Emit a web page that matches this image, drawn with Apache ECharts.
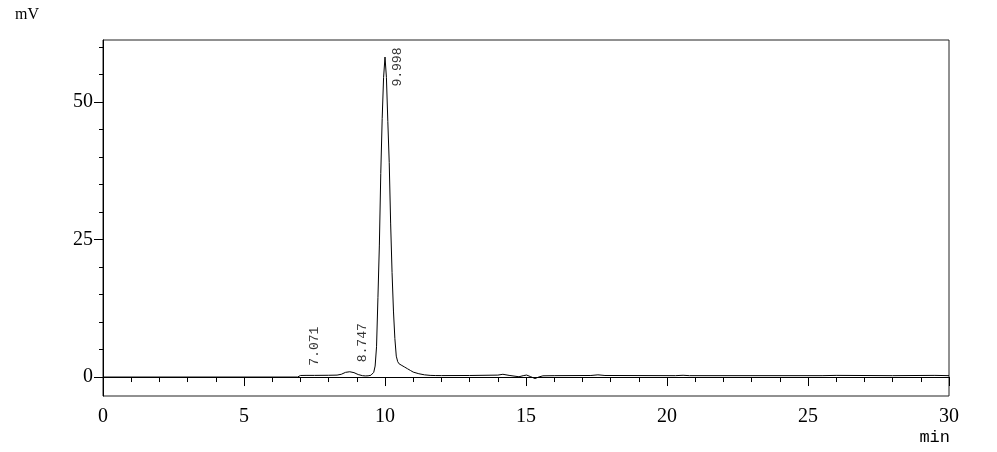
<!DOCTYPE html>
<html><head><meta charset="utf-8">
<script src="https://cdn.jsdelivr.net/npm/echarts@6/dist/echarts.min.js"></script>
<style>html,body{margin:0;padding:0;background:#fff}#c{width:997px;height:452px}</style>
</head><body><div id="c"></div>
<script>
// retention time (min)
const times = [0, 6.9, 6.95, 7.0, 7.07, 7.2, 7.5, 8.0, 8.3, 8.45, 8.6, 8.75, 8.9, 9.05, 9.2, 9.3, 9.4, 9.45, 9.5, 9.55, 9.6, 9.65, 9.7, 9.75, 9.8, 9.85, 9.9, 9.95, 10.0, 10.05, 10.1, 10.15, 10.2, 10.25, 10.3, 10.35, 10.4, 10.45, 10.5, 10.6, 10.7, 10.8, 10.9, 11.0, 11.2, 11.4, 11.6, 11.8, 12.0, 13.0, 14.0, 14.18, 14.4, 14.75, 14.9, 15.02, 15.15, 15.32, 15.45, 15.6, 16.0, 17.3, 17.55, 17.8, 20.3, 20.57, 20.8, 25.5, 26.0, 28.0, 29.5, 30.0];
// detector signal (mV)
const signal = [0, 0, 0.2, 0.28, 0.33, 0.3, 0.3, 0.32, 0.35, 0.5, 0.85, 0.96, 0.8, 0.45, 0.25, 0.2, 0.22, 0.26, 0.32, 0.45, 0.85, 2.0, 5.5, 14.5, 24, 37, 47, 54.5, 58.2, 54.5, 46.5, 39, 28, 19, 12, 7, 3.8, 2.8, 2.4, 2.1, 1.8, 1.5, 1.2, 0.9, 0.6, 0.4, 0.3, 0.27, 0.26, 0.28, 0.35, 0.5, 0.3, 0.05, 0.25, 0.36, 0.1, -0.28, 0.0, 0.22, 0.25, 0.28, 0.4, 0.28, 0.25, 0.32, 0.25, 0.25, 0.3, 0.25, 0.3, 0.25];
// integrated peaks
const peakTimes = [7.071, 8.747, 9.998];
const peakHeights = [0.33, 0.96, 58.2];
const peakLabels = ['7.071', '8.747', '9.998'];
// axis ticks
const yLabelValues = [0, 25, 50];
const yMinorTicks = [5, 10, 15, 20, 30, 35, 40, 45, 55, 60];

const lineData = times.map((t, i) => [t, signal[i]]);
const peakData = peakTimes.map((t, i) => ({
  value: [t, peakHeights[i]],
  label: { position: peakHeights[i] > 40 ? [13, 30] : [13, -9] }
}));

const serif = 'Liberation Serif';
const chart = echarts.init(document.getElementById('c'), null, { renderer: 'canvas' });
chart.setOption({
  animation: false,
  title: [
    { text: 'mV', left: 10, top: 2, textStyle: { fontFamily: serif, fontSize: 16, fontWeight: 'normal', color: '#000' } },
    { text: 'min', right: 42, top: 424, textStyle: { fontFamily: 'Liberation Mono', fontSize: 17, fontWeight: 'normal', color: '#000' } }
  ],
  grid: { left: 103, right: 48, top: 40, bottom: 56, show: true, borderColor: '#222', borderWidth: 1, backgroundColor: 'transparent' },
  xAxis: {
    type: 'value', min: 0, max: 30, interval: 5,
    axisLine: { show: true, lineStyle: { color: '#000', width: 1 } },
    axisTick: { show: true, length: 9, lineStyle: { color: '#000' } },
    minorTick: { show: true, splitNumber: 5, length: 5, lineStyle: { color: '#000' } },
    axisLabel: { margin: 11, fontFamily: serif, fontSize: 20, color: '#000' },
    splitLine: { show: false }, minorSplitLine: { show: false }
  },
  yAxis: [
    {
      type: 'value', min: -3.45, max: 61.3,
      axisLine: { show: true, onZero: false, lineStyle: { color: '#000' } },
      axisTick: { show: true, length: 9, customValues: yLabelValues, lineStyle: { color: '#000' } },
      axisLabel: { customValues: yLabelValues, margin: 10, fontFamily: serif, fontSize: 20, color: '#000' },
      splitLine: { show: false }
    },
    {
      type: 'value', min: -3.45, max: 61.3, position: 'left', offset: 0,
      axisLine: { show: false },
      axisTick: { show: true, length: 4, customValues: yMinorTicks, lineStyle: { color: '#000' } },
      axisLabel: { show: false },
      splitLine: { show: false }
    }
  ],
  series: [
    {
      type: 'line', data: lineData, showSymbol: false, symbol: 'none',
      lineStyle: { color: '#000', width: 1 }, silent: true
    },
    {
      type: 'scatter', data: peakData, symbolSize: 1, itemStyle: { color: 'rgba(0,0,0,0)' },
      label: {
        show: true, rotate: 90, align: 'left', verticalAlign: 'middle',
        formatter: p => peakLabels[p.dataIndex],
        fontFamily: 'Liberation Mono', fontSize: 13, color: '#000'
      }, silent: true
    }
  ]
});
</script></body></html>
